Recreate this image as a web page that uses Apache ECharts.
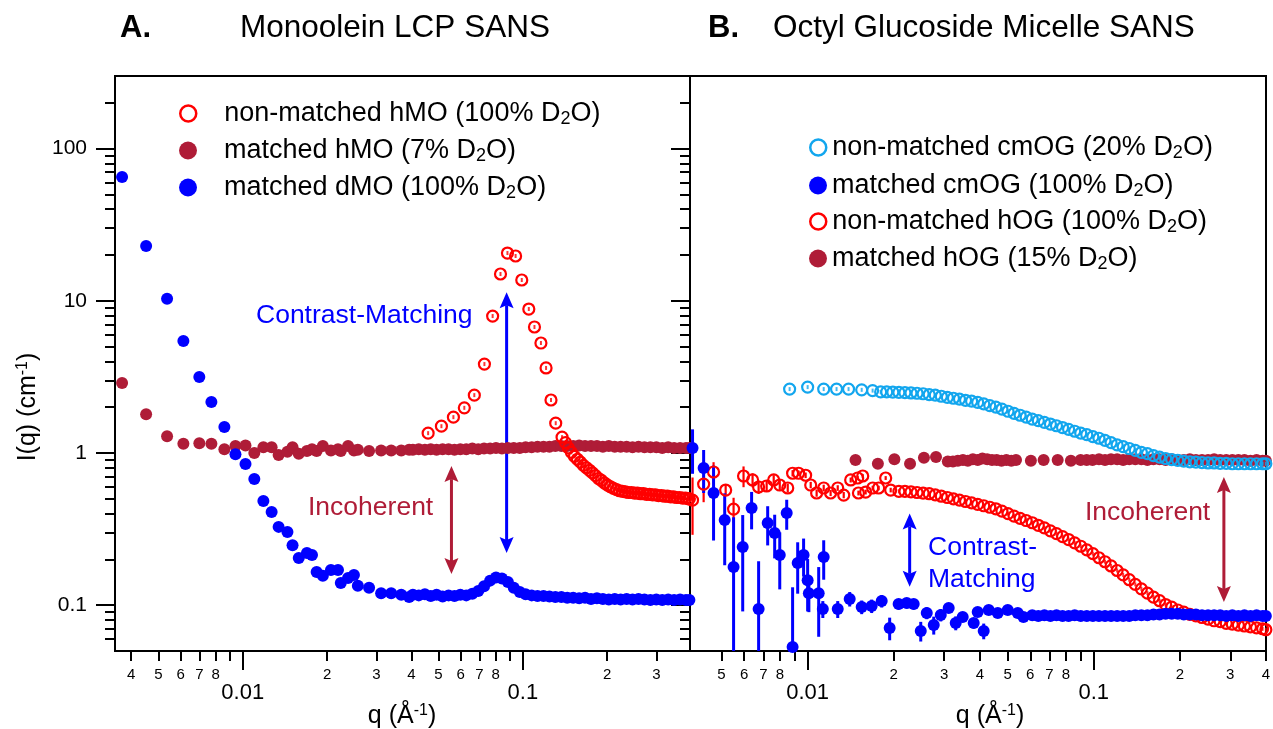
<!DOCTYPE html>
<html>
<head>
<meta charset="utf-8">
<title>SANS contrast matching</title>
<script src="https://cdn.jsdelivr.net/npm/echarts@6/dist/echarts.min.js"></script>
<style>
html, body { margin: 0; padding: 0; background: #fff; }
#chart { width: 1273px; height: 729px; }
</style>
</head>
<body>
<div id="chart"></div>
<script>
// ---------- axis ranges and tick values ----------
const Y_MIN = 0.05, Y_MAX = 300;
const X_MIN_A = 0.0035, X_MAX_A = 0.395;
const X_MIN_B = 0.00388, X_MAX_B = 0.4;

const yMajorTicks = [0.1, 1, 10, 100];
const yMinorTicks = [0.06, 0.07, 0.08, 0.09, 0.2, 0.3, 0.4, 0.5, 0.6, 0.7, 0.8, 0.9,
  2, 3, 4, 5, 6, 7, 8, 9, 20, 30, 40, 50, 60, 70, 80, 90, 200];
const xMajorTicks = [0.01, 0.1];
const xMinorTicksA = [0.004, 0.005, 0.006, 0.007, 0.008, 0.009,
  0.02, 0.03, 0.04, 0.05, 0.06, 0.07, 0.08, 0.09, 0.2, 0.3];
const xMinorTicksB = [0.005, 0.006, 0.007, 0.008, 0.009,
  0.02, 0.03, 0.04, 0.05, 0.06, 0.07, 0.08, 0.09, 0.2, 0.3, 0.4];

// ---------- Panel A: monoolein LCP ----------
// low-q points shared by the two matched samples
const qA_low = [0.00371, 0.00452, 0.00537, 0.00614, 0.0070, 0.00773, 0.0086, 0.00942, 0.01023, 0.0110,
  0.01185, 0.01268, 0.01343, 0.01444, 0.01506, 0.01585, 0.01695, 0.01767, 0.01836, 0.01932,
  0.02065, 0.02188, 0.02239, 0.02377, 0.02495, 0.02576, 0.02825, 0.03119, 0.03388, 0.0368, 0.03926];
const dMO100_low = [65, 22.9, 10.3, 5.44, 3.16, 2.16, 1.48, 0.98, 0.847, 0.675,
  0.484, 0.409, 0.327, 0.303, 0.248, 0.204, 0.220, 0.214, 0.165, 0.156,
  0.170, 0.170, 0.140, 0.151, 0.158, 0.134, 0.130, 0.120, 0.120, 0.117, 0.113];
const hMO7_low = [2.88, 1.80, 1.29, 1.15, 1.16, 1.15, 1.06, 1.11, 1.12, 1.00,
  1.09, 1.09, 0.97, 1.02, 1.09, 0.99, 1.03, 1.06, 1.03, 1.11,
  1.04, 1.06, 1.03, 1.11, 1.04, 1.05, 1.03, 1.04, 1.04, 1.04, 1.05];

// high-q points shared by the two matched samples
const qA_high = [0.0405, 0.0425, 0.0447, 0.0469, 0.0492, 0.0517, 0.0543, 0.057, 0.0598, 0.0628,
  0.066, 0.0693, 0.0727, 0.0764, 0.0802, 0.0842, 0.0884, 0.0928, 0.0975, 0.1023,
  0.1075, 0.1128, 0.1185, 0.1244, 0.1306, 0.1372, 0.144, 0.1512, 0.1588, 0.1667,
  0.1751, 0.1838, 0.193, 0.2027, 0.2128, 0.2234, 0.2346, 0.2463, 0.2587, 0.2716,
  0.2852, 0.2994, 0.3144, 0.3301, 0.3466, 0.364, 0.3822, 0.393];
const dMO100_high = [0.117, 0.116, 0.118, 0.115, 0.117, 0.114, 0.116, 0.115, 0.117, 0.116,
  0.119, 0.124, 0.133, 0.145, 0.152, 0.150, 0.142, 0.130, 0.122, 0.118,
  0.116, 0.115, 0.115, 0.114, 0.113, 0.113, 0.112, 0.112, 0.111, 0.112,
  0.110, 0.111, 0.110, 0.109, 0.110, 0.109, 0.110, 0.109, 0.110, 0.109,
  0.108, 0.109, 0.108, 0.109, 0.108, 0.109, 0.108, 0.108];
const hMO7_high = [1.05, 1.06, 1.05, 1.06, 1.05, 1.06, 1.06, 1.05, 1.06, 1.06,
  1.07, 1.06, 1.07, 1.07, 1.08, 1.07, 1.08, 1.08, 1.08, 1.09,
  1.09, 1.10, 1.10, 1.10, 1.11, 1.11, 1.11, 1.11, 1.12, 1.11,
  1.11, 1.11, 1.10, 1.11, 1.10, 1.10, 1.10, 1.09, 1.10, 1.09,
  1.09, 1.09, 1.08, 1.09, 1.08, 1.08, 1.08, 1.08];

// non-matched hMO: Bragg peak and high-q tail
const qA_peak = [0.0459, 0.0512, 0.0565, 0.0618, 0.0671, 0.0729, 0.0780, 0.0832, 0.0881, 0.0942,
  0.0991, 0.105, 0.110, 0.116, 0.121, 0.126, 0.131, 0.138];
const hMO100_peak = [1.35, 1.50, 1.72, 1.98, 2.40, 3.84, 7.94, 15.0, 20.6, 19.7,
  13.7, 8.83, 6.73, 5.28, 3.62, 2.23, 1.57, 1.27];
const qA_tail = [0.1419, 0.1454, 0.149, 0.1528, 0.1566, 0.1605, 0.1645, 0.1686, 0.1729, 0.1772,
  0.1816, 0.1862, 0.1908, 0.1956, 0.2005, 0.2055, 0.2106, 0.2159, 0.2213, 0.2268,
  0.2325, 0.2383, 0.2443, 0.2504, 0.2566, 0.2631, 0.2696, 0.2764, 0.2833, 0.2904,
  0.2976, 0.3051, 0.3127, 0.3205, 0.3285, 0.3368, 0.3452, 0.3538, 0.3627, 0.3717,
  0.381, 0.3906, 0.393];
const hMO100_tail = [1.17, 1.08, 1.01, 0.95, 0.91, 0.87, 0.83, 0.80, 0.77, 0.74,
  0.71, 0.68, 0.66, 0.635, 0.615, 0.60, 0.585, 0.575, 0.565, 0.56,
  0.555, 0.55, 0.55, 0.545, 0.545, 0.54, 0.54, 0.535, 0.535, 0.53,
  0.53, 0.525, 0.525, 0.52, 0.52, 0.515, 0.515, 0.51, 0.51, 0.505,
  0.505, 0.50, 0.50];

// ---------- Panel B: octyl glucoside micelles ----------
// shared high-q grid (null = no point on that row)
const qB = [0.0180, 0.0189, 0.01985, 0.02084, 0.02188, 0.02297, 0.02412, 0.02533, 0.0266, 0.02793,
  0.02932, 0.03079, 0.03233, 0.03394, 0.03564, 0.03742, 0.03929, 0.04126, 0.04332, 0.04549,
  0.04776, 0.05015, 0.05266, 0.05529, 0.05805, 0.06096, 0.064, 0.0672, 0.07056, 0.07409,
  0.0778, 0.08169, 0.08577, 0.09006, 0.09456, 0.09929, 0.10426, 0.10947, 0.11494, 0.12069,
  0.12672, 0.13306, 0.13971, 0.1467, 0.15403, 0.16173, 0.16982, 0.17831, 0.18723, 0.19659,
  0.20642, 0.21674, 0.22758, 0.23896, 0.2509, 0.26345, 0.27662, 0.29045, 0.30497, 0.32022,
  0.33623, 0.35304, 0.3707, 0.38923, 0.3995];
const cmOG20_grid = [2.52, 2.52, 2.51, 2.50, 2.49, 2.48, 2.47, 2.45, 2.42, 2.40,
  2.36, 2.32, 2.29, 2.26, 2.22, 2.19, 2.15, 2.10, 2.05, 2.00,
  1.94, 1.88, 1.82, 1.77, 1.72, 1.67, 1.63, 1.59, 1.55, 1.51,
  1.47, 1.43, 1.39, 1.35, 1.32, 1.28, 1.25, 1.21, 1.17, 1.13,
  1.10, 1.07, 1.04, 1.01, 0.99, 0.96, 0.94, 0.92, 0.905, 0.895,
  0.885, 0.875, 0.87, 0.865, 0.86, 0.86, 0.855, 0.855, 0.85, 0.85,
  0.85, 0.85, 0.85, 0.85, 0.85];
const hOG100_grid = [null, null, null, 0.56, 0.56, 0.555, 0.55, 0.545, 0.54, 0.53,
  0.52, 0.51, 0.50, 0.49, 0.48, 0.47, 0.46, 0.45, 0.44, 0.43,
  0.415, 0.40, 0.385, 0.372, 0.36, 0.348, 0.335, 0.322, 0.308, 0.295,
  0.282, 0.27, 0.257, 0.244, 0.231, 0.218, 0.205, 0.193, 0.181, 0.169,
  0.158, 0.147, 0.137, 0.128, 0.12, 0.113, 0.107, 0.101, 0.097, 0.093,
  0.09, 0.087, 0.085, 0.083, 0.081, 0.079, 0.078, 0.076, 0.075, 0.074,
  0.073, 0.072, 0.071, 0.070, 0.069];
const cmOG100_grid = [null, null, null, null, null, null, null, null, null, null,
  null, null, null, null, null, null, null, null, null, null,
  null, null, null, null, null, 0.086, 0.085, 0.086, 0.085, 0.086,
  0.085, 0.085, 0.086, 0.085, 0.085, 0.085, 0.085, 0.085, 0.085, 0.085,
  0.085, 0.085, 0.086, 0.086, 0.086, 0.087, 0.087, 0.088, 0.088, 0.088,
  0.087, 0.087, 0.087, 0.086, 0.086, 0.086, 0.086, 0.085, 0.086, 0.085,
  0.086, 0.085, 0.086, 0.085, 0.085];

// non-matched cmOG, low-q points
const qB_cm20_low = [0.00865, 0.0100, 0.01138, 0.01262, 0.0139, 0.01545, 0.01687];
const cmOG20_low = [2.63, 2.71, 2.63, 2.63, 2.63, 2.60, 2.57];

// low-q points with errors: [q, I, dI]
const hOG100_low = [
  [0.00396, 0.49, 0.20], [0.00433, 0.625, 0.15], [0.00469, 0.75, 0.12], [0.00517, 0.571, 0.05],
  [0.00551, 0.428, 0.08], [0.00597, 0.706, 0.11], [0.00642, 0.665, 0.07], [0.00674, 0.598, 0.06],
  [0.00719, 0.607, 0.05], [0.00761, 0.665, 0.05], [0.00799, 0.616, 0.05], [0.00852, 0.589, 0.04],
  [0.00886, 0.736, 0.035], [0.0093, 0.736, 0.03], [0.00984, 0.714, 0.03], [0.01025, 0.616, 0.03],
  [0.01075, 0.546, 0.03], [0.01138, 0.589, 0.03], [0.01203, 0.546, 0.025], [0.01274, 0.589, 0.025],
  [0.01337, 0.529, 0.025], [0.01414, 0.665, 0.025], [0.01496, 0.685, 0.02], [0.01558, 0.706, 0.02],
  [0.01505, 0.546, 0.02], [0.01595, 0.554, 0.02], [0.01688, 0.589, 0.02], [0.01771, 0.589, 0.02],
  [0.01874, 0.685, 0.02], [0.01951, 0.571, 0.02]
];
const cmOG100_low = [
  [0.00396, 1.08, 0.35], [0.00433, 0.796, 0.25], [0.00469, 0.546, 0.28], [0.00513, 0.363, 0.18],
  [0.00551, 0.178, 0.2], [0.00593, 0.241, 0.15], [0.00637, 0.435, 0.12], [0.00674, 0.0944, 0.1],
  [0.00725, 0.347, 0.1], [0.00767, 0.298, 0.095], [0.00799, 0.214, 0.087], [0.00845, 0.403, 0.09],
  [0.00886, 0.0531, 0.078], [0.00923, 0.189, 0.07], [0.00968, 0.214, 0.06], [0.0100, 0.146, 0.055],
  [0.0101, 0.120, 0.03], [0.01093, 0.120, 0.058], [0.01138, 0.207, 0.06], [0.0113, 0.0944, 0.012],
  [0.01274, 0.0944, 0.012], [0.01403, 0.110, 0.012], [0.01545, 0.0973, 0.01], [0.01674, 0.0988, 0.01],
  [0.01815, 0.1065, 0.01], [0.01935, 0.0708, 0.012], [0.0208, 0.1018, 0.008], [0.0222, 0.1033, 0.008],
  [0.02348, 0.1018, 0.008], [0.02485, 0.0677, 0.01], [0.02608, 0.0889, 0.008], [0.02759, 0.0741, 0.01],
  [0.02919, 0.0862, 0.008], [0.03112, 0.0958, 0.006], [0.03293, 0.0764, 0.008], [0.03483, 0.0836, 0.006],
  [0.03806, 0.0764, 0.006], [0.0393, 0.0902, 0.006], [0.04125, 0.0677, 0.008], [0.04295, 0.093, 0.006],
  [0.04618, 0.0889, 0.005], [0.05005, 0.093, 0.005], [0.05424, 0.0889, 0.005], [0.0568, 0.0836, 0.005]
];

// matched hOG
const qB_hOG15 = [0.0147, 0.0176, 0.0201, 0.0228, 0.0255, 0.0281, 0.0309, 0.0322, 0.0335, 0.0349,
  0.0363, 0.0378, 0.0393, 0.0408, 0.0424, 0.0441, 0.0458, 0.0476, 0.0495, 0.0515,
  0.0535, 0.0603, 0.0668, 0.0748, 0.0832, 0.0900, 0.0945, 0.0990, 0.1043, 0.1095,
  0.1149, 0.1207, 0.1267, 0.1331, 0.1397, 0.1467, 0.154, 0.1617, 0.1698, 0.1783,
  0.1872, 0.1966, 0.2064, 0.2167, 0.2276, 0.239, 0.2509, 0.2635, 0.2766, 0.2905,
  0.305, 0.3202, 0.3362, 0.353, 0.3707, 0.3892, 0.3995];
const hOG15 = [0.90, 0.85, 0.91, 0.85, 0.93, 0.94, 0.88, 0.88, 0.89, 0.90,
  0.89, 0.91, 0.90, 0.92, 0.91, 0.90, 0.90, 0.89, 0.90, 0.89,
  0.90, 0.89, 0.90, 0.90, 0.89, 0.90, 0.90, 0.90, 0.91, 0.90,
  0.91, 0.91, 0.90, 0.91, 0.91, 0.91, 0.90, 0.91, 0.91, 0.90,
  0.91, 0.90, 0.90, 0.91, 0.90, 0.90, 0.90, 0.91, 0.90, 0.90,
  0.90, 0.90, 0.90, 0.89, 0.90, 0.89, 0.89];

// ---------- styling ----------
const FONT = '"Liberation Sans", Arial, Helvetica, sans-serif';
const BLUE = '#0000FF', BROWN = '#AF1C37', RED = '#FF0000', SKY = '#12A6EE';

const N_HMO100 = 'non-matched hMO (100% D2O)';
const N_HMO7 = 'matched hMO (7% D2O)';
const N_DMO100 = 'matched dMO (100% D2O)';
const N_CM20 = 'non-matched cmOG (20% D2O)';
const N_CM100 = 'matched cmOG (100% D2O)';
const N_HOG100 = 'non-matched hOG (100% D2O)';
const N_HOG15 = 'matched hOG (15% D2O)';

function pairs(qs, vs) {
  return qs.map((q, i) => [q, vs[i]]).filter(p => p[1] != null);
}

const A = { xAxisIndex: 0, yAxisIndex: 0 };
const B = { xAxisIndex: 2, yAxisIndex: 4 };

function dots(name, data, color, axes) {
  return Object.assign({ name, type: 'scatter', data, symbol: 'circle', symbolSize: 12,
    itemStyle: { color, opacity: 1 }, silent: true, emphasis: { disabled: true } }, axes);
}
function rings(name, data, color, axes) {
  return Object.assign({ name, type: 'scatter', data, symbol: 'circle', symbolSize: 11,
    itemStyle: { color: 'rgba(255,255,255,0)', borderColor: color, borderWidth: 2.2, opacity: 1 },
    silent: true, emphasis: { disabled: true } }, axes);
}
// tiny error bars drawn inside each open circle
function ringMarks(name, data, color, axes) {
  return Object.assign({ name, type: 'scatter', data, symbol: 'rect', symbolSize: [2, 4],
    itemStyle: { color }, silent: true, emphasis: { disabled: true } }, axes);
}
function errorBars(name, data, color, width, axes) {
  return Object.assign({ name, type: 'custom', data, silent: true,
    encode: { x: 0, y: 1 },
    renderItem: function (params, api) {
      const q = api.value(0), v = api.value(1), e = api.value(2);
      const hi = Math.min(v + e, Y_MAX);
      const lo = Math.max(v - e, Y_MIN);
      const p1 = api.coord([q, hi]);
      const p2 = api.coord([q, lo]);
      return { type: 'line', shape: { x1: p1[0], y1: p1[1], x2: p2[0], y2: p2[1] },
        style: { stroke: color, lineWidth: width } };
    } }, axes);
}

const majorFmt = v => String(+(+v).toPrecision(3));
const minorFmt = v => {
  const d = Math.round(v / Math.pow(10, Math.floor(Math.log10(v) + 1e-9)));
  return d === 9 ? '' : String(d);
};
const blackLine = { color: '#000', width: 2 };

function xAxisPair(gridIndex, min, max, minorTicks) {
  return [
    { type: 'log', logBase: 10, gridIndex, min, max, position: 'bottom',
      axisLine: { show: true, onZero: false, lineStyle: blackLine },
      axisTick: { show: true, inside: false, length: 19, lineStyle: blackLine, customValues: xMajorTicks },
      axisLabel: { show: true, customValues: xMajorTicks, margin: 31, fontSize: 22, color: '#000',
        fontFamily: FONT, formatter: majorFmt, hideOverlap: false },
      splitLine: { show: false }, minorTick: { show: false } },
    { type: 'log', logBase: 10, gridIndex, min, max, position: 'bottom',
      axisLine: { show: false, onZero: false },
      axisTick: { show: true, inside: false, length: 10, lineStyle: blackLine, customValues: minorTicks },
      axisLabel: { show: true, customValues: minorTicks, margin: 16, fontSize: 15, color: '#000',
        fontFamily: FONT, formatter: minorFmt, hideOverlap: false },
      splitLine: { show: false }, minorTick: { show: false } }
  ];
}
function yAxisTicks(position, inside, values, len, labels) {
  return { type: 'log', logBase: 10, gridIndex: 0, min: Y_MIN, max: Y_MAX, position,
    axisLine: { show: true, onZero: false, lineStyle: blackLine },
    axisTick: { show: true, inside, length: len, lineStyle: blackLine, customValues: values },
    axisLabel: labels
      ? { show: true, customValues: values, margin: 28, fontSize: 21, color: '#000', fontFamily: FONT,
          formatter: majorFmt, hideOverlap: false }
      : { show: false },
    splitLine: { show: false }, minorTick: { show: false } };
}

// legend rows: one legend per row; gap = extra space between symbol and text
const legendRows = [
  { name: N_HMO100, color: RED, ring: true, left: 179, gap: 22, y: 112 },
  { name: N_HMO7, color: BROWN, ring: false, left: 179, gap: 22, y: 149 },
  { name: N_DMO100, color: BLUE, ring: false, left: 179, gap: 22, y: 186 },
  { name: N_CM20, color: SKY, ring: true, left: 809, gap: 0, y: 146 },
  { name: N_CM100, color: BLUE, ring: false, left: 809, gap: 0, y: 184 },
  { name: N_HOG100, color: RED, ring: true, left: 809, gap: 0, y: 220 },
  { name: N_HOG15, color: BROWN, ring: false, left: 809, gap: 0, y: 257 }
];
const legends = legendRows.map(r => ({
  show: true, orient: 'vertical', left: r.left, top: r.y - 12, padding: 0,
  itemWidth: 18, itemHeight: r.ring ? 16 : 18, selectedMode: false,
  data: [{ name: r.name, icon: 'circle',
    itemStyle: r.ring ? { color: 'rgba(255,255,255,0)', borderColor: r.color, borderWidth: 2.5 }
                      : { color: r.color, borderWidth: 0 } }],
  formatter: n => n.replace('D2O', 'D{sub|2}O'),
  textStyle: { fontSize: 27, fontFamily: FONT, color: '#000', padding: [0, 0, 0, r.gap],
    rich: { sub: { fontSize: 18, fontFamily: FONT, color: '#000', padding: [11, 0, 0, 0] } } }
}));

const chart = echarts.init(document.getElementById('chart'), null, { renderer: 'canvas' });

const hMO100_all = pairs(qA_peak, hMO100_peak).concat(pairs(qA_tail, hMO100_tail));
const cmOG20_all = pairs(qB_cm20_low, cmOG20_low).concat(pairs(qB, cmOG20_grid));
const hOG100_dense = pairs(qB, hOG100_grid);

chart.setOption({
  animation: false,
  backgroundColor: '#fff',
  grid: [
    { left: 115, top: 76, width: 575, height: 575, show: true, borderColor: '#000', borderWidth: 2,
      backgroundColor: 'rgba(0,0,0,0)', containLabel: false, outerBoundsMode: 'none' },
    { left: 690, top: 76, width: 576, height: 575, show: true, borderColor: '#000', borderWidth: 2,
      backgroundColor: 'rgba(0,0,0,0)', containLabel: false, outerBoundsMode: 'none' }
  ],
  xAxis: xAxisPair(0, X_MIN_A, X_MAX_A, xMinorTicksA).concat(xAxisPair(1, X_MIN_B, X_MAX_B, xMinorTicksB)),
  yAxis: [
    yAxisTicks('left', false, yMajorTicks, 19, true),
    yAxisTicks('left', false, yMinorTicks, 10, false),
    yAxisTicks('right', true, yMajorTicks, 19, false),
    yAxisTicks('right', true, yMinorTicks, 10, false),
    { type: 'log', logBase: 10, gridIndex: 1, min: Y_MIN, max: Y_MAX, show: false }
  ],
  legend: legends,
  series: [
    // Panel A
    dots(N_HMO7, pairs(qA_low, hMO7_low).concat(pairs(qA_high, hMO7_high)), BROWN, A),
    dots(N_DMO100, pairs(qA_low, dMO100_low).concat(pairs(qA_high, dMO100_high)), BLUE, A),
    rings(N_HMO100, hMO100_all, RED, A),
    ringMarks('hMO100 error', hMO100_all, RED, A),
    // Panel B
    dots(N_HOG15, pairs(qB_hOG15, hOG15), BROWN, B),
    errorBars('hOG100 error', hOG100_low, RED, 2.2, B),
    rings(N_HOG100, hOG100_low.map(d => [d[0], d[1]]).concat(hOG100_dense), RED, B),
    ringMarks('hOG100 dense error', hOG100_dense, RED, B),
    errorBars('cmOG100 error', cmOG100_low, BLUE, 3, B),
    dots(N_CM100, cmOG100_low.map(d => [d[0], d[1]]).concat(pairs(qB, cmOG100_grid)), BLUE, B),
    rings(N_CM20, cmOG20_all, SKY, B),
    ringMarks('cmOG20 error', cmOG20_all, SKY, B)
  ]
});

// ---------- titles, axis names and annotations ----------
function doubleArrow(top, bottom, color) {
  const x = top[0], yT = top[1], yB = bottom[1], head = 16, half = 7, notch = 3;
  return [
    { type: 'line', silent: true, shape: { x1: x, y1: yT + head - notch, x2: x, y2: yB - head + notch },
      style: { stroke: color, lineWidth: 3 } },
    { type: 'polygon', silent: true,
      shape: { points: [[x, yT], [x + half, yT + head], [x, yT + head - notch], [x - half, yT + head]] },
      style: { fill: color } },
    { type: 'polygon', silent: true,
      shape: { points: [[x, yB], [x + half, yB - head], [x, yB - head + notch], [x - half, yB - head]] },
      style: { fill: color } }
  ];
}
function label(text, x, y, color, size, weight) {
  return { type: 'text', x, y, silent: true,
    style: { text, fill: color, fontSize: size, fontWeight: weight || 'normal', fontFamily: FONT,
      align: 'left', verticalAlign: 'middle' } };
}
function axisName(text, x, y, rotation) {
  return { type: 'text', x, y, rotation: rotation || 0, silent: true,
    style: { text, fill: '#000', fontSize: 25, fontFamily: FONT, align: 'center', verticalAlign: 'middle',
      rich: { sup: { fontSize: 16, fontFamily: FONT, fill: '#000', padding: [0, 0, 10, 0] } } } };
}

const toA = p => chart.convertToPixel(A, p);
const toB = p => chart.convertToPixel(B, p);

// arrow end points in data space [q, I]
const arrows = [
  { from: toA([0.0875, 11.4]), to: toA([0.0875, 0.22]), color: BLUE },
  { from: toA([0.0556, 0.82]), to: toA([0.0556, 0.16]), color: BROWN },
  { from: toB([0.02273, 0.40]), to: toB([0.02273, 0.132]), color: BLUE },
  { from: toB([0.285, 0.695]), to: toB([0.285, 0.105]), color: BROWN }
];

let graphics = [
  label('A.', 120, 28, '#000', 31, 'bold'),
  label('Monoolein LCP SANS', 240, 28, '#000', 31.5),
  label('B.', 708, 28, '#000', 31, 'bold'),
  label('Octyl Glucoside Micelle SANS', 773, 28, '#000', 31.5),
  axisName('I(q) (cm{sup|-1})', 28, 407, Math.PI / 2),
  axisName('q (Å{sup|-1})', 402, 716),
  axisName('q (Å{sup|-1})', 990, 716),
  label('Contrast-Matching', 256, 316, BLUE, 26.5),
  label('Incoherent', 308, 508, BROWN, 26.5),
  label('Contrast-', 928, 548, BLUE, 26.5),
  label('Matching', 928, 580, BLUE, 26.5),
  label('Incoherent', 1085, 513, BROWN, 26.5)
];
arrows.forEach(a => { graphics = graphics.concat(doubleArrow(a.from, a.to, a.color)); });

chart.setOption({ graphic: graphics });
</script>
</body>
</html>
